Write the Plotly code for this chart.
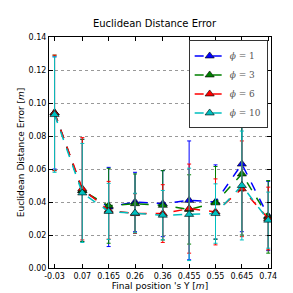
import plotly.graph_objects as go

x_vals = [-0.03, 0.07, 0.165, 0.26, 0.36, 0.455, 0.55, 0.645, 0.74]
x_labels = ["-0.03", "0.07", "0.165", "0.26", "0.36", "0.455", "0.55", "0.645", "0.74"]

phi1_mean = [0.094, 0.047, 0.037, 0.040, 0.039, 0.041, 0.040, 0.063, 0.0315]
phi1_std = [0.034, 0.031, 0.024, 0.018, 0.020, 0.036, 0.0225, 0.041, 0.021]
phi3_mean = [0.094, 0.047, 0.0377, 0.039, 0.038, 0.0355, 0.0395, 0.057, 0.031]
phi3_std = [0.035, 0.031, 0.0227, 0.018, 0.021, 0.021, 0.022, 0.037, 0.022]
phi6_mean = [0.094, 0.048, 0.035, 0.033, 0.033, 0.036, 0.034, 0.048, 0.030]
phi6_std = [0.035, 0.031, 0.0175, 0.012, 0.0175, 0.027, 0.020, 0.029, 0.019]
phi10_mean = [0.093, 0.0455, 0.0343, 0.0333, 0.032, 0.0325, 0.033, 0.050, 0.029]
phi10_std = [0.035, 0.030, 0.017, 0.012, 0.015, 0.028, 0.018, 0.033, 0.017]

series = [
    ("<i>ϕ</i> = 1", phi1_mean, phi1_std, "#0000ff"),
    ("<i>ϕ</i> = 3", phi3_mean, phi3_std, "#008000"),
    ("<i>ϕ</i> = 6", phi6_mean, phi6_std, "#ff0000"),
    ("<i>ϕ</i> = 10", phi10_mean, phi10_std, "#00bfbf"),
]

fig = go.Figure()
for name, m, s, c in series:
    fig.add_trace(go.Scatter(
        x=x_vals, y=m, name=name, mode="lines+markers",
        line=dict(color=c, width=1.5, dash="dash"),
        marker=dict(symbol="triangle-up", size=8, color=c, line=dict(color="black", width=0.6)),
        error_y=dict(type="data", array=s, visible=True, color=c, thickness=1, width=2),
    ))

fig.update_layout(
    width=293, height=293,
    margin=dict(l=37, r=30, t=29, b=30),
    paper_bgcolor="white", plot_bgcolor="white",
    font=dict(family="DejaVu Sans", size=8, color="black"),
    title=dict(text="Euclidean Distance Error", x=0.5, xanchor="center", y=0.935, yanchor="bottom",
               font=dict(size=10)),
    showlegend=True,
    legend=dict(x=0.985, y=0.985, xanchor="right", yanchor="top", bordercolor="#333333", borderwidth=1,
                bgcolor="white", font=dict(family="DejaVu Serif", size=9, color="#555555"),
                itemwidth=30, tracegroupgap=0),
)
fig.update_xaxes(
    range=[-0.05, 0.75], tickvals=x_vals, ticktext=x_labels,
    showgrid=False, zeroline=False, showline=True, linecolor="black", linewidth=1, mirror="ticks",
    ticks="inside", ticklen=4, tickcolor="black",
    title=dict(text="Final position 's Y [<i>m</i>]", font=dict(size=9), standoff=2),
    tickfont=dict(size=8),
)
fig.update_yaxes(
    range=[0, 0.14], dtick=0.02, tickformat=".2f",
    showgrid=True, gridcolor="#999999", griddash="dot", gridwidth=1, zeroline=False,
    showline=True, linecolor="black", linewidth=1, mirror="ticks",
    ticks="inside", ticklen=4, tickcolor="black",
    title=dict(text="Euclidean Distance Error [<i>m</i>]", font=dict(size=9), standoff=2),
    tickfont=dict(size=8),
)
fig.write_html("out.html")
